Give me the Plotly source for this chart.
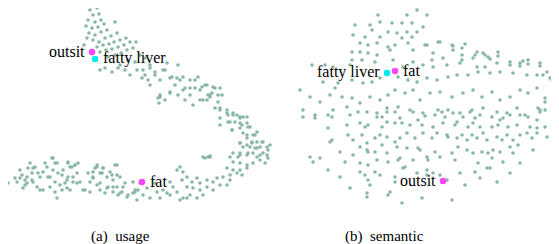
import plotly.graph_objects as go

# ---------------- data (pixel-space embedding coordinates, y grows downward) -------------
usage_top = [(90,10),(97,8),(93,15),(99,14),(88,20),(95,22),(101,20),(86,26),(92,28),(98,27),(104,24),
             (89,33),(95,35),(101,32),(107,30),(115,22),(87,38),(93,40),(99,42),(105,38),(111,36),(117,33),
             (84,45),(97,47),(103,45),(109,44),(114,42),(120,40),(100,52),(106,50),(112,49),(118,47),
             (124,45),(126,38),(130,42),(108,57),(115,55),(121,53),(127,50),(133,48),(136,42)]

usage_band = [(100,70),(105,68),(112,72),(120,65),(128,60),(135,62),(140,55),(145,58),(150,65),(137,70),
              (130,75),(145,75),(155,72),(160,80),(150,85),(165,70),(170,78),(175,85),(180,80),(160,95),
              (165,100),(170,92),(158,98),(178,95),(185,88),(190,95),(195,80),(200,90),(205,85),(210,95),
              (215,88),(185,100),(193,105),(200,100),(207,100),(212,93),(218,95),(148,80),(142,78),(125,70),
              (118,68),(143,70),(150,68),(155,75),(163,70),(167,63),(172,77),(178,65),(177,78),(183,77),
              (190,80),(198,77),(183,90),(190,88),(195,88),(202,87),(207,85),(213,87),(220,88),(208,95),
              (210,97),(203,100),(218,102),(222,95),(215,108),(220,108),(227,110),(228,115),(233,113),
              (237,115),(240,118),(243,117),(235,122),(242,125),(247,123),(220,118),(228,122),(232,130),
              (240,128),(250,127),(243,133),(253,135),(257,132),(247,138),(252,142),(257,142),(240,143),
              (243,147),(250,147),(255,148),(260,147),(263,142),(268,150),(270,145),(240,153),(247,155),
              (253,153),(257,157),(260,155),(267,155),(205,158),(210,157),(230,157),(238,157),(160,97),
              (159,103),(170,93)]

usage_bend = [(220,110),(227,113),(233,115),(240,117),(247,117),(230,122),(240,123),(248,127),(220,125),
              (232,130),(247,135),(255,135),(240,143),(247,145),(252,143),(257,148),(262,142),(267,147),
              (233,153),(240,155),(248,153),(263,153),(268,158),(233,162),(240,163),(247,165),(253,163),
              (260,160),(265,163),(227,168),(233,170),(240,170),(247,168),(230,175),(237,173),(242,175),
              (223,177),(217,178),(230,180),(213,182),(220,185),(227,185),(207,187),(213,190),(200,190),
              (203,195),(197,198),(190,195),(183,198),(203,157),(208,157),(210,156)]

usage_bottom = [(180,167),(183,172),(182,180),(187,187),(173,187),(177,192),(170,195),(163,190),(157,192),
                (150,198),(143,195),(137,200),(133,193),(127,197),(120,193),(117,187),(113,180),(117,175),
                (117,165),(110,172),(103,168),(100,173),(97,167),(93,177),(90,182),(97,185),(100,190),
                (107,188),(113,192),(90,192),(83,190),(80,182),(77,173),(75,165),(68,163),(73,177),(67,180),
                (62,175),(60,185),(67,188),(55,192),(57,198),(50,187),(50,177),(53,170),(55,163),(53,158),
                (45,163),(43,172),(40,177),(37,187),(43,190),(33,182),(32,173),(30,163),(35,167),(27,177),
                (25,185),(23,188),(20,178),(17,182),(15,178),(8,183),(20,170),(28,168),(78,163),(70,167),
                (93,172),(107,177),(140,183),(135,192),(138,190),(147,188),(155,183),(160,198),(177,170),
                (170,182),(167,193),(187,177),(192,182),(197,178),(200,183),(207,180),(193,188),(187,198),
                (180,200),(22,175),(25,180),(27,183),(32,180),(33,168),(38,173),(40,190),(47,167),(48,177),
                (52,158),(55,182),(57,163),(58,173),(62,190),(63,170),(65,183),(68,162),(68,177),(70,190),
                (72,167),(73,182),(75,165),(77,183),(85,190),(88,173),(93,178),(95,168),(97,165),(100,183),
                (102,173),(103,168),(105,193),(108,187),(112,175),(113,187),(115,165),(118,195),(120,177),
                (122,192),(123,187),(125,183),(128,195),(133,182),(135,190)]

semantic_upper = [(378,15),(407,15),(417,10),(427,15),(355,25),(370,25),(380,22),(392,23),(402,23),(412,23),
                  (423,27),(372,30),(388,32),(397,33),(407,32),(417,32),(353,35),(365,37),(380,37),(402,38),
                  (412,37),(438,42),(360,43),(368,45),(377,43),(388,47),(395,45),(408,43),(425,45),(452,45),
                  (360,52),(352,52),(368,53),(377,55),(390,50),(413,50),(433,53),(453,50),(462,55),(477,52),
                  (483,53),(498,52),(352,60),(362,60),(375,62),(393,60),(413,62),(432,60),(443,58),(462,60),
                  (473,58),(488,57),(312,65),(325,65),(333,67),(350,65),(403,67),(423,65),(433,67),(447,65),
                  (460,63),(477,67),(485,67),(497,63),(510,62),(520,63),(528,60),(540,63),(300,90),(323,82),
                  (335,88),(338,83),(352,80),(363,83),(372,82),(380,78),(398,77),(408,80),(417,82),(427,78),
                  (437,80),(448,77),(457,75),(468,75),(478,72),(490,73),(500,72),(513,73),(527,75),(537,75),
                  (547,72),(550,78),(310,97),(320,102),(330,95),(342,97),(352,98),(360,103),(370,97),(380,100),
                  (388,95),(395,90),(405,93),(413,90),(420,100),(430,93),(440,92),(452,97),(463,93),(473,90),
                  (482,97),(492,92),(500,100),(510,97),(520,90),(528,93),(537,88),(545,98),(303,110),(315,115),
                  (333,110),(347,107),(358,112),(377,113),(387,108),(398,107),(410,110),(423,113),(438,110),
                  (448,110),(460,113),(472,110),(483,108),(497,112),(507,113),(517,108),(525,115),(540,110)]

semantic_right = [(427,45),(440,42),(453,46),(462,48),(465,44),(475,55),(485,55),(498,56),(490,59),(510,65),
                  (520,66),(523,61),(528,64),(540,66),(552,80),(543,75),(555,84),(545,102),(538,108)]

semantic_lower = [(303,117),(315,118),(328,115),(332,117),(350,115),(367,112),(377,117),(382,117),(387,112),
                  (395,112),(400,118),(413,112),(425,116),(435,115),(442,112),(445,117),(453,113),(463,117),
                  (470,112),(475,118),(480,115),(492,117),(500,120),(510,115),(520,115),(528,117),(537,120),
                  (540,112),(545,110),(328,128),(347,125),(360,123),(365,127),(368,125),(382,127),(387,122),
                  (395,123),(402,123),(410,125),(418,120),(422,125),(433,127),(443,123),(455,125),(457,122),
                  (468,127),(473,123),(480,127),(492,127),(498,125),(503,118),(508,127),(517,125),(530,127),
                  (537,128),(545,127),(330,142),(332,140),(348,135),(353,140),(362,135),(367,143),(375,138),
                  (380,135),(387,137),(395,142),(400,138),(407,133),(415,138),(423,133),(432,138),(437,133),
                  (447,135),(448,137),(457,138),(462,135),(467,140),(472,135),(477,138),(483,133),(487,140),
                  (497,137),(502,140),(507,135),(513,140),(520,135),(527,133),(532,138),(537,133),(547,137),
                  (340,152),(353,155),(360,147),(367,150),(368,152),(375,152),(382,145),(387,153),(397,147),
                  (407,148),(418,148),(420,150),(427,157),(435,152),(440,157),(452,153),(458,147),(467,150),
                  (473,153),(482,152),(488,153),(493,150),(500,152),(510,147),(513,153),(518,145),(533,150),
                  (310,157),(313,162),(320,158),(345,162),(360,163),(368,165),(377,160),(388,162),(398,160),
                  (400,158),(413,160),(428,160),(455,160),(478,163),(492,158),(503,162),(520,163),(328,170),
                  (340,177),(360,172),(365,175),(375,172),(380,175),(395,177),(403,168),(405,167),(427,170),
                  (433,173),(440,175),(447,180),(460,173),(475,172),(480,178),(487,168),(490,168),(497,182),
                  (510,173),(350,188),(368,180),(370,185),(367,193),(367,197),(390,192),(388,195),(395,182),
                  (417,173),(422,198),(427,175),(452,200),(465,185),(402,203)]

# highlighted words: (label, x, y, colour)
usage_words = [("outsit", 92, 52, "#ff44ff"), ("fatty liver", 95, 59, "#00e8f0"), ("fat", 142, 182, "#ff44ff")]
semantic_words = [("fatty liver", 387, 73, "#00e8f0"), ("fat", 395, 71, "#ff44ff"), ("outsit", 443, 181, "#ff44ff")]
usage_label_side = ["left", "right", "right"]
semantic_label_side = ["left", "right", "left"]

captions = ["(a)\u00a0\u00a0usage", "(b)\u00a0\u00a0semantic"]
caption_x = [120, 384]

# ---------------- figure -------------
# The page body has an 8px margin, so the figure is 551x236 and shows
# the reference's coordinate window from 8 to 559 (x) and 8 to 244 (y).
OFF = 8
W, H = 559 - OFF, 244 - OFF
split = (279.5 - OFF) / W

dot_color = "#8ab7a5"
font_family = "Liberation Serif, Times New Roman, serif"

fig = go.Figure()

def add_cloud(groups, xa, ya):
    pts = [p for g in groups for p in g]
    fig.add_trace(go.Scatter(x=[p[0] for p in pts], y=[p[1] for p in pts], mode="markers",
                             marker=dict(size=3.6, color=dot_color, line=dict(width=0)),
                             cliponaxis=False,
                             xaxis=xa, yaxis=ya, hoverinfo="skip", showlegend=False))

add_cloud([usage_top, usage_band, usage_bend, usage_bottom], "x", "y")
add_cloud([semantic_upper, semantic_right, semantic_lower], "x2", "y2")

def add_words(words, sides, xa, ya):
    for (lab, x, y, col), side in zip(words, sides):
        fig.add_trace(go.Scatter(x=[x], y=[y], mode="markers",
                                 marker=dict(size=6.5, color=col, line=dict(width=0)),
                                 cliponaxis=False,
                                 xaxis=xa, yaxis=ya, hoverinfo="skip", showlegend=False))
        fig.add_annotation(x=x, y=y, xref=xa, yref=ya, text=lab, showarrow=False,
                           xanchor="right" if side == "left" else "left",
                           xshift=-5 if side == "left" else 6, yshift=1,
                           font=dict(family=font_family, size=16, color="black"))

add_words(usage_words, usage_label_side, "x", "y")
add_words(semantic_words, semantic_label_side, "x2", "y2")

for cap, cx, xa, ya in zip(captions, caption_x, ["x", "x2"], ["y", "y2"]):
    fig.add_annotation(x=cx, y=236, xref=xa, yref=ya, text=cap, showarrow=False,
                       xanchor="center", yanchor="middle",
                       font=dict(family=font_family, size=15, color="black"))

axis_common = dict(visible=False, showgrid=False, zeroline=False, fixedrange=True)
fig.update_layout(
    width=W, height=H, autosize=False,
    margin=dict(l=0, r=0, t=0, b=0),
    paper_bgcolor="white", plot_bgcolor="white",
    xaxis=dict(domain=[0, split], range=[OFF, 279.5], **axis_common),
    yaxis=dict(domain=[0, 1], range=[244, OFF], **axis_common),
    xaxis2=dict(domain=[split, 1], range=[279.5, 559], anchor="y2", **axis_common),
    yaxis2=dict(domain=[0, 1], range=[244, OFF], anchor="x2", **axis_common),
)

fig.write_html("out.html")
